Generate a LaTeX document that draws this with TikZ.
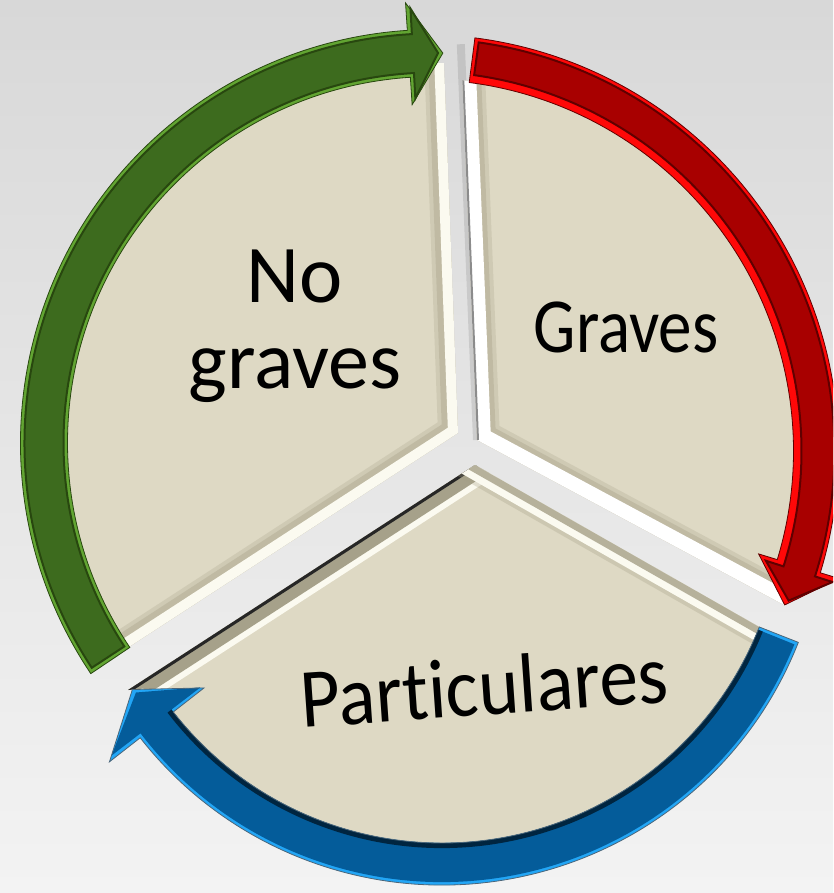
\documentclass[tikz,border=0pt]{standalone}
\usepackage{fontspec}
\setmainfont{Carlito}[Ligatures=NoCommon]
\usetikzlibrary{calc}
\definecolor{bgtop}{HTML}{D8D8D8}
\definecolor{bgbot}{HTML}{F3F3F3}
\definecolor{beige}{HTML}{DED9C4}
\definecolor{cream}{HTML}{FBFAF0}
\definecolor{segtan}{HTML}{A59F86}
\definecolor{segolive}{HTML}{8A8468}
\definecolor{gmain}{HTML}{3D6B1E}
\definecolor{glight}{HTML}{62A532}
\definecolor{gdark}{HTML}{28470F}
\definecolor{rmain}{HTML}{A80000}
\definecolor{rlight}{HTML}{FF0808}
\definecolor{rdark}{HTML}{600000}
\definecolor{bmain}{HTML}{045C9A}
\definecolor{blight}{HTML}{22A6F6}
\definecolor{bdark}{HTML}{002540}
% #1 centre, #2 r, #3 width, #4 tail angle, #5 head-back angle, #6 tip angle, #7 head half width, #8 path options
\newcommand\ringarrow[8]{%
  \pgfmathsetmacro\RAo{#2+#3/2}\pgfmathsetmacro\RAi{#2-#3/2}%
  \pgfmathsetmacro\RAho{#2+#7}\pgfmathsetmacro\RAhi{#2-#7}%
  \path[#8] ([shift={(#1)}]#4:\RAo) arc[start angle=#4, end angle=#5, radius=\RAo]
    -- ([shift={(#1)}]#5:\RAho) -- ([shift={(#1)}]#6:#2) -- ([shift={(#1)}]#5:\RAhi)
    -- ([shift={(#1)}]#5:\RAi) arc[start angle=#5, end angle=#4, radius=\RAi] -- cycle;}
\begin{document}
\begin{tikzpicture}[x=1pt,y=1pt,
  lbl/.style={text=black, inner sep=0pt, anchor=base},
  edgeln/.style={line join=miter, line cap=butt}]
\useasboundingbox (0,0) rectangle (833,-893);
\clip (0,0) rectangle (833,-893);
\shade[top color=bgtop, bottom color=bgbot] (0,0) rectangle (833,-893);

\coordinate (cg) at (434,-443);
\coordinate (cr) at (422,-451);
\coordinate (cb) at (442,-502);

% ---------- No graves segment
\coordinate (ngA) at (458,-433);
\coordinate (ngL) at (132,-645);
\coordinate (ngT) at (444.3,-62.6);
\def\ngpath{(ngA) -- (ngL) -- ([shift={(cg)}]213.8:380) arc[start angle=213.8, end angle=88.5, radius=380] -- cycle}
\begin{scope}
  \clip \ngpath;
  \fill[beige] \ngpath;
  \draw[edgeln, segtan, opacity=.25, line width=40] ($(ngA)!1.3!(ngT)$) -- (ngA) -- ($(ngA)!1.3!(ngL)$);
  \draw[edgeln, segtan, opacity=.35, line width=32] ($(ngA)!1.3!(ngT)$) -- (ngA) -- ($(ngA)!1.3!(ngL)$);
  \draw[edgeln, cream, line width=20] ($(ngA)!1.3!(ngT)$) -- (ngA) -- ($(ngA)!1.3!(ngL)$);
\end{scope}

% ---------- Graves segment
\coordinate (grA) at (477,-440);
\coordinate (grT) at (462.3,-80.2);
\coordinate (grB) at (786,-606);
\def\grpath{(grA) -- (grT) arc[start angle=83.8, end angle=82.7, radius=373] -- ([shift={(cr)}]82.7:385) arc[start angle=82.7, end angle=-20, radius=385] -- (grB) -- cycle}
\draw[edgeln, black, opacity=.1, line width=8] ($(grA)!1.1!(grT)$) -- (grA);
\begin{scope}
  \clip \grpath;
  \fill[beige] \grpath;
  \draw[edgeln, segtan, opacity=.25, line width=46] ($(grA)!1.3!(grT)$) -- (grA) -- ($(grA)!1.3!(grB)$);
  \draw[edgeln, segtan, opacity=.35, line width=38] ($(grA)!1.3!(grT)$) -- (grA) -- ($(grA)!1.3!(grB)$);
  \draw[edgeln, white, line width=28] ($(grA)!1.3!(grT)$) -- (grA) -- ($(grA)!1.3!(grB)$);
  \draw[edgeln, black!45, line width=4] ($(grA)!1.3!(grT)$) -- (grA);
\end{scope}

% ---------- Particulares segment
\coordinate (paA) at (475,-465);
\coordinate (paR) at (759.3,-627);
\coordinate (paL) at (128,-690);
\def\papath{(paA) -- (paR) -- ([shift={(cb)}]-21.5:352) arc[start angle=-21.5, end angle=-148, radius=352] -- (paL) -- cycle}
\begin{scope}
  \clip \papath;
  \fill[beige] \papath;
  \draw[edgeln, cream, line width=40] ($(paA)!1.2!(paL)$) -- ($(paL)!1.2!(paA)$);
  \draw[edgeln, segolive, opacity=.75, line width=28] ($(paA)!1.2!(paL)$) -- ($(paL)!1.2!(paA)$);
  \draw[edgeln, black!85, line width=6] ($(paA)!1.2!(paL)$) -- ($(paL)!1.2!(paA)$);
  \draw[edgeln, segtan, opacity=.3, line width=36] ($(paA)!1.2!(paR)$) -- ($(paR)!1.2!(paA)$);
  \draw[edgeln, cream, line width=28] ($(paA)!1.2!(paR)$) -- ($(paR)!1.2!(paA)$);
  \draw[edgeln, segtan, opacity=.8, line width=14] ($(paA)!1.2!(paR)$) -- ($(paR)!1.2!(paA)$);
\end{scope}

% ---------- green arrow
\ringarrow{cg}{390}{47}{213.9}{93.7}{88.7}{51}{fill=glight}
\ringarrow{cg}{390}{39}{213.3}{93.1}{89.4}{45}{fill=gmain, draw=gdark, line width=2}
\ringarrow{cg}{390}{47}{213.9}{93.7}{88.7}{51}{draw=gdark, line width=.8}

% ---------- red arrow
\ringarrow{cr}{394}{45}{82.7}{-17}{-23}{42}{fill=rlight}
\ringarrow{cr}{396}{33}{82.1}{-17.7}{-22.2}{35}{fill=rmain, draw=rdark, line width=2}
\ringarrow{cr}{394}{45}{82.7}{-17}{-23}{42}{draw=rdark, line width=.8}

% ---------- blue arrow
\ringarrow{cb}{362}{42}{-21.5}{-142}{-148.8}{60}{fill=blight}
\ringarrow{cb}{360.5}{39}{-22}{-142.5}{-148.1}{56}{fill=bmain}
\draw[bdark, line width=5] ([shift={(cb)}]-22:343.5) arc[start angle=-22, end angle=-142.5, radius=343.5];
\ringarrow{cb}{362}{42}{-21.5}{-142}{-148.8}{60}{draw=bdark!70, line width=.8}

% ---------- labels
\node[lbl, font=\fontsize{82}{86}\selectfont] (ng) at (295,-388) {\begin{tabular}[b]{@{}c@{}}No\\graves\end{tabular}};
\node[lbl, font=\fontsize{78}{86}\selectfont, xscale=0.86] (gr) at (626,-352) {Graves};
\node[lbl, font=\fontsize{84}{90}\selectfont, rotate=4, xscale=0.92] (pa) at (486,-715) {Particulares};
\end{tikzpicture}
\end{document}
